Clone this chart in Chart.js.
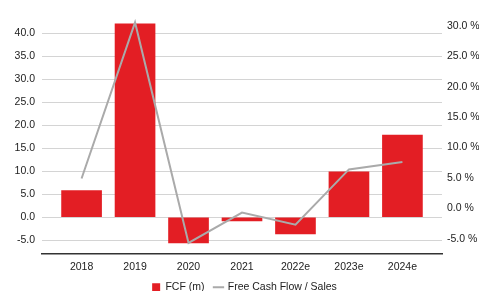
<!DOCTYPE html>
<html>
<head>
<meta charset="utf-8">
<script src="https://cdn.jsdelivr.net/npm/chart.js@4"></script>
<style>
    body { margin: 0; background: #fff; }
    #chart { display: block; }
</style>
</head>
<body>
<canvas id="chart" width="479" height="291"></canvas>
<script>
// Chart data
const categories = ['2018', '2019', '2020', '2021', '2022e', '2023e', '2024e'];
const fcfValues = [5.8, 42.1, -5.6, -0.8, -3.6, 9.9, 17.9];
const fcfSalesPct = [4.9, 30.6, -5.7, -0.7, -2.7, 6.4, 7.6];
const leftTicks = [-5, 0, 5, 10, 15, 20, 25, 30, 35, 40];
const rightTicks = [-5, 0, 5, 10, 15, 20, 25, 30];

const tickFont = { family: 'Liberation Sans, Arial, sans-serif', size: 10.5 };
const textColor = '#222';

// Build point lists on a linear x axis (index -> category)
const barPoints = fcfValues.map((v, i) => ({ x: i, y: v }));
const linePoints = fcfSalesPct.map((v, i) => ({ x: i, y: v }));

new Chart(document.getElementById('chart'), {
    type: 'bar',
    data: {
        datasets: [
            {
                type: 'line',
                label: 'Free Cash Flow / Sales',
                data: linePoints,
                yAxisID: 'y1',
                borderColor: '#aaaaaa',
                backgroundColor: '#aaaaaa',
                borderWidth: 2,
                pointRadius: 0,
                tension: 0,
                pointStyle: 'line',
                order: 0
            },
            {
                type: 'bar',
                label: 'FCF (m)',
                data: barPoints,
                yAxisID: 'y',
                backgroundColor: '#e31e24',
                barThickness: 40,
                pointStyle: 'rect',
                order: 1
            }
        ]
    },
    options: {
        responsive: false,
        animation: false,
        layout: { padding: { top: 9, bottom: -11.5, left: 10 } },
        plugins: {
            tooltip: { enabled: false },
            legend: {
                position: 'bottom',
                reverse: true,
                labels: {
                    usePointStyle: true,
                    boxWidth: 8,
                    boxHeight: 8,
                    padding: 10,
                    color: textColor,
                    font: tickFont
                }
            }
        },
        scales: {
            x: {
                type: 'linear',
                offset: false,
                min: -0.74,
                max: 6.74,
                afterBuildTicks: axis => {
                    axis.ticks = categories.map((c, i) => ({ value: i }));
                },
                ticks: {
                    color: textColor,
                    font: tickFont,
                    padding: -1,
                    autoSkip: false,
                    maxRotation: 0,
                    callback: value => categories[value]
                },
                grid: { display: false },
                border: { display: true, color: '#333', width: 1.5 }
            },
            y: {
                position: 'left',
                min: -7.86,
                max: 44.4,
                afterBuildTicks: axis => {
                    axis.ticks = leftTicks.map(v => ({ value: v }));
                },
                afterFit: axis => { axis.width = 32; },
                ticks: {
                    color: textColor,
                    font: tickFont,
                    padding: 7,
                    callback: value => value.toFixed(1)
                },
                grid: { color: '#d4d4d4', lineWidth: 1, drawTicks: false },
                border: { display: false }
            },
            y1: {
                position: 'right',
                min: -7.43,
                max: 32.1,
                afterBuildTicks: axis => {
                    axis.ticks = rightTicks.map(v => ({ value: v }));
                },
                afterFit: axis => { axis.width = 37; },
                ticks: {
                    color: textColor,
                    font: tickFont,
                    padding: 5,
                    callback: value => value.toFixed(1) + ' %'
                },
                grid: { display: false, drawTicks: false },
                border: { display: false }
            }
        }
    }
});
</script>
</body>
</html>
